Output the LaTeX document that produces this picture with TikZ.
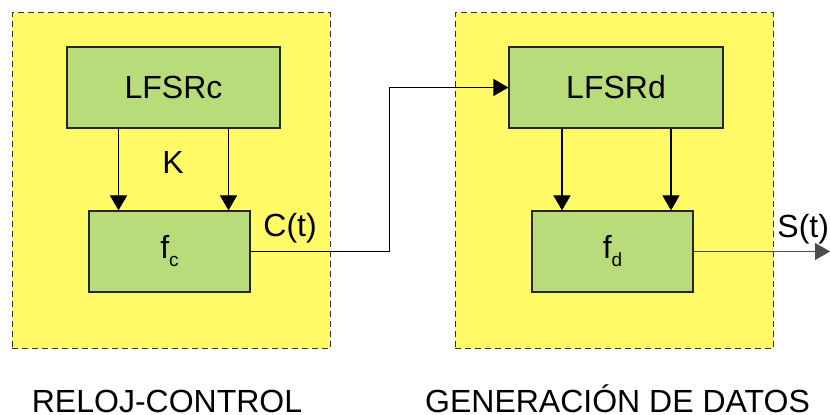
\documentclass[tikz,border=0pt]{standalone}
\usepackage{fontspec}
\setmainfont{Liberation Sans}
\usetikzlibrary{arrows.meta}
\definecolor{zonayellow}{RGB}{255,250,102}
\definecolor{blockgreen}{RGB}{184,220,122}
\tikzset{
  zona/.style={draw=black!80, line width=0.5pt, dash pattern=on 3pt off 2pt, fill=zonayellow, minimum width=159pt, minimum height=168pt, inner sep=0pt},
  bloque/.style={draw=black!85, line width=0.6pt, fill=blockgreen, inner sep=0pt, font=\fontsize{16}{18}\selectfont},
  flecha/.style={-{Triangle[width=8.5pt,length=7.5pt]}, line width=0.6pt}
}
\newcommand{\fsub}[1]{f\raisebox{-4pt}{\fontsize{9.5}{10}\selectfont #1}}
\begin{document}
\begin{tikzpicture}[x=0.5pt,y=-0.5pt]
  	\useasboundingbox (0,0) rectangle (830,415);
  	\node[zona](relojbox) at (171,181) {};
  	\node[zona](datosbox) at (614,181) {};
  	
  	\node[bloque, minimum width=106.5pt, minimum height=40.5pt](LFSRc) at (173.5,87.5) {LFSRc};
  	\node[bloque, minimum width=80.5pt, minimum height=40.5pt](fc) at (169.5,251.5) {\fsub{c}};
  	\node[bloque, minimum width=107pt, minimum height=40.5pt](LFSRd) at (616,87.5) {LFSRd};
  	\node[bloque, minimum width=80.5pt, minimum height=40.5pt](fd) at (612.5,251.5) {\fsub{d}};
  	\coordinate (salida) at (830,251.5);
  	
  	\draw[flecha] ([xshift=-27.5pt]LFSRc.south) -- ([xshift=-27.5pt]LFSRc.south |- fc.north);
  	\draw[flecha] ([xshift=27.5pt]LFSRc.south) -- ([xshift=27.5pt]LFSRc.south |- fc.north);
  	\draw[flecha] ([xshift=-27pt]LFSRd.south) -- ([xshift=-27pt]LFSRd.south |- fd.north);
  	\draw[flecha] ([xshift=27.5pt]LFSRd.south) -- ([xshift=27.5pt]LFSRd.south |- fd.north);
  	
  	\draw[flecha] (fc.east) -| ([xshift=-59.5pt]LFSRd.west) -- (LFSRd.west);
  	\draw[flecha, line width=0.4pt, draw=black!70] (fd.east) -- (salida);
  	
  	\node[font=\fontsize{16}{18}\selectfont](K) at (173,163) {K};
  	\node[font=\fontsize{16}{18}\selectfont, anchor=base west, inner sep=0pt](Ct) at (263,237) {C(t)};
  	\node[font=\fontsize{16}{18}\selectfont, anchor=base west, inner sep=0pt](St) at (777,238) {S(t)};
  	
  	\node[font=\fontsize{16}{18}\selectfont, anchor=base, inner sep=0pt](reloj) at (167,413) {RELOJ-CONTROL};
  	\node[font=\fontsize{16}{18}\selectfont, anchor=base, inner sep=0pt](datos) at (617.5,413) {GENERACIÓN DE DATOS};
\end{tikzpicture}
\end{document}
